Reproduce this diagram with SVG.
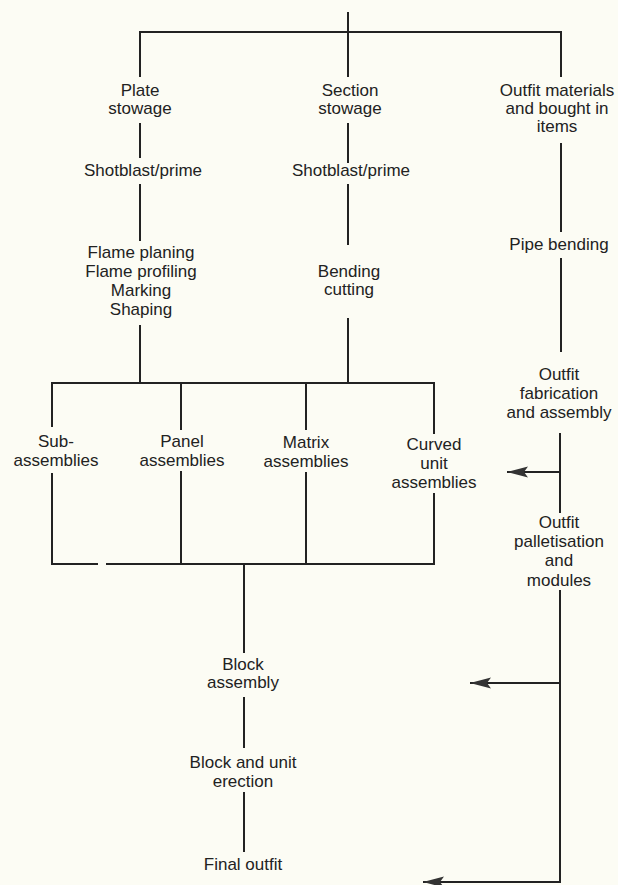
<svg xmlns="http://www.w3.org/2000/svg" width="618" height="885" viewBox="0 0 618 885">
<defs>
<style>
.bg{fill:#fcfcf4}
.ln{fill:none;stroke:#222;stroke-width:2;stroke-linejoin:miter;stroke-linecap:butt}
text{font-family:"Liberation Sans",Arial,sans-serif;font-size:17px;fill:#222;text-anchor:middle}
</style>
<marker id="ah" viewBox="0 0 22 12" refX="22" refY="6" markerWidth="22" markerHeight="12" markerUnits="userSpaceOnUse" orient="auto">
<path d="M22,6 L1,0.5 L5,6 L1,11.5 Z" fill="#333"/>
</marker>
</defs>
<rect class="bg" x="0" y="0" width="618" height="885"/>
<g id="connectors" class="ln">
<path d="M348,12 V32"/>
<path d="M140,77 V32 H561 V77"/>
<path d="M348,32 V77"/>
<path d="M140,123 V158"/>
<path d="M140,184 V241"/>
<path d="M140,325 V383"/>
<path d="M348,123 V163"/>
<path d="M348,184 V245"/>
<path d="M348,318 V383"/>
<path d="M52,427 V383 H434 V434"/>
<path d="M181,383 V430"/>
<path d="M306,383 V430"/>
<path d="M52,473 V564 H98"/>
<path d="M106,564 H434 V493"/>
<path d="M181,471 V564"/>
<path d="M306,472 V564"/>
<path d="M244,564 V653"/>
<path d="M244,697 V748"/>
<path d="M244,792 V852"/>
<path d="M561,143 V232"/>
<path d="M561,258 V352"/>
<path d="M560,433 V513"/>
<path d="M560,590 V882 H423" marker-end="url(#ah)"/>
<path d="M560,472 H507" marker-end="url(#ah)"/>
<path d="M560,683 H470" marker-end="url(#ah)"/>
</g>
<g id="plate-stowage"><text x="140" y="96">Plate</text><text x="140" y="114">stowage</text></g>
<g id="section-stowage"><text x="350" y="96">Section</text><text x="350" y="114">stowage</text></g>
<g id="outfit-materials"><text x="557" y="96">Outfit materials</text><text x="557" y="114">and bought in</text><text x="557" y="132">items</text></g>
<g id="plate-shotblast"><text x="143" y="176">Shotblast/prime</text></g>
<g id="section-shotblast"><text x="351" y="176">Shotblast/prime</text></g>
<g id="flame"><text x="141" y="258">Flame planing</text><text x="141" y="277">Flame profiling</text><text x="141" y="296">Marking</text><text x="141" y="315">Shaping</text></g>
<g id="bending"><text x="349" y="277">Bending</text><text x="349" y="295">cutting</text></g>
<g id="pipe-bending"><text x="559" y="250">Pipe bending</text></g>
<g id="outfit-fabrication"><text x="559" y="380">Outfit</text><text x="559" y="399">fabrication</text><text x="559" y="418">and assembly</text></g>
<g id="sub-assemblies"><text x="56" y="447">Sub-</text><text x="56" y="466">assemblies</text></g>
<g id="panel-assemblies"><text x="182" y="447">Panel</text><text x="182" y="466">assemblies</text></g>
<g id="matrix-assemblies"><text x="306" y="448">Matrix</text><text x="306" y="467">assemblies</text></g>
<g id="curved-assemblies"><text x="434" y="450">Curved</text><text x="434" y="469">unit</text><text x="434" y="488">assemblies</text></g>
<g id="outfit-palletisation"><text x="559" y="528">Outfit</text><text x="559" y="547">palletisation</text><text x="559" y="566">and</text><text x="559" y="586">modules</text></g>
<g id="block-assembly"><text x="243" y="670">Block</text><text x="243" y="688">assembly</text></g>
<g id="block-erection"><text x="243" y="768">Block and unit</text><text x="243" y="787">erection</text></g>
<g id="final-outfit"><text x="243" y="870">Final outfit</text></g>
</svg>
